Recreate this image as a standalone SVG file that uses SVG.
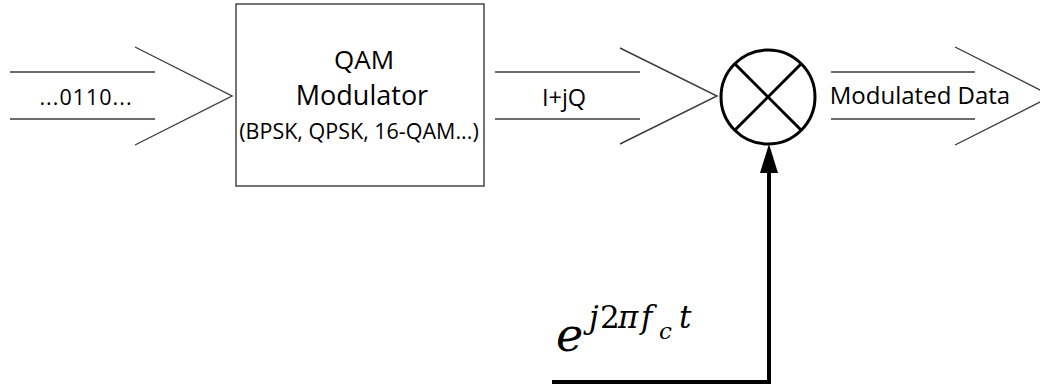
<svg xmlns="http://www.w3.org/2000/svg" width="1040" height="386" viewBox="0 0 1040 386">
<style>
.ln{stroke:#3a3a3a;stroke-width:1.4;fill:none}
.lbl{font-family:"Open Sans","Liberation Sans",Arial,sans-serif;fill:#000;text-anchor:middle}
.thick{stroke:#000;stroke-width:4;fill:none}
.math{font-family:"DejaVu Serif","Liberation Serif",serif;font-style:italic;fill:#000}
</style>
<rect width="1040" height="386" fill="#fff"/>
<g id="connectors">
<g id="arrow-input">
<line class="ln" x1="10" y1="72" x2="155" y2="72"/>
<line class="ln" x1="10" y1="119" x2="155" y2="119"/>
<polyline class="ln" points="135,47 232,96 135,145"/>
</g>
<g id="arrow-iq">
<line class="ln" x1="495" y1="72" x2="640" y2="72"/>
<line class="ln" x1="495" y1="119" x2="640" y2="119"/>
<polyline class="ln" points="620,48 717,96 620,144"/>
</g>
<g id="arrow-output">
<line class="ln" x1="831" y1="72" x2="975" y2="72"/>
<line class="ln" x1="831" y1="119" x2="975" y2="119"/>
<polyline class="ln" points="955,47 1052,96 955,145"/>
</g>
<g id="carrier">
<polyline class="thick" points="552,382 769,382 769,170"/>
<polygon points="769,144 760,173 778,173" fill="#000"/>
</g>
</g>
<g id="input-label">
<text class="lbl" x="86" y="105" font-size="21.5" letter-spacing="1">...0110...</text>
</g>
<g id="qam-modulator">
<rect x="236" y="4" width="248" height="182" fill="#fff" stroke="#3a3a3a" stroke-width="1.4"/>
<text class="lbl" x="364" y="69" font-size="26">QAM</text>
<text class="lbl" x="362" y="105" font-size="27">Modulator</text>
<text class="lbl" x="359" y="139" font-size="21.5">(BPSK, QPSK, 16-QAM...)</text>
</g>
<g id="iq-label">
<text class="lbl" x="564" y="106" font-size="23.5">I+jQ</text>
</g>
<g id="mixer">
<circle cx="768" cy="97" r="47" fill="#fff" stroke="#000" stroke-width="3"/>
<line x1="735" y1="64" x2="801" y2="130" stroke="#000" stroke-width="3"/>
<line x1="801" y1="64" x2="735" y2="130" stroke="#000" stroke-width="3"/>
</g>
<g id="output-label">
<text class="lbl" x="920" y="104" font-size="24">Modulated Data</text>
</g>
<g id="carrier-label">
<text class="math" font-size="31"><tspan x="556" y="351" font-size="46">e</tspan><tspan x="589" y="328">j</tspan><tspan x="600" y="328" font-style="normal">2</tspan><tspan x="618" y="328">π</tspan><tspan x="641" y="328">f</tspan><tspan x="659" y="339" font-size="23">c</tspan><tspan x="679" y="328">t</tspan></text>
</g>
</svg>
